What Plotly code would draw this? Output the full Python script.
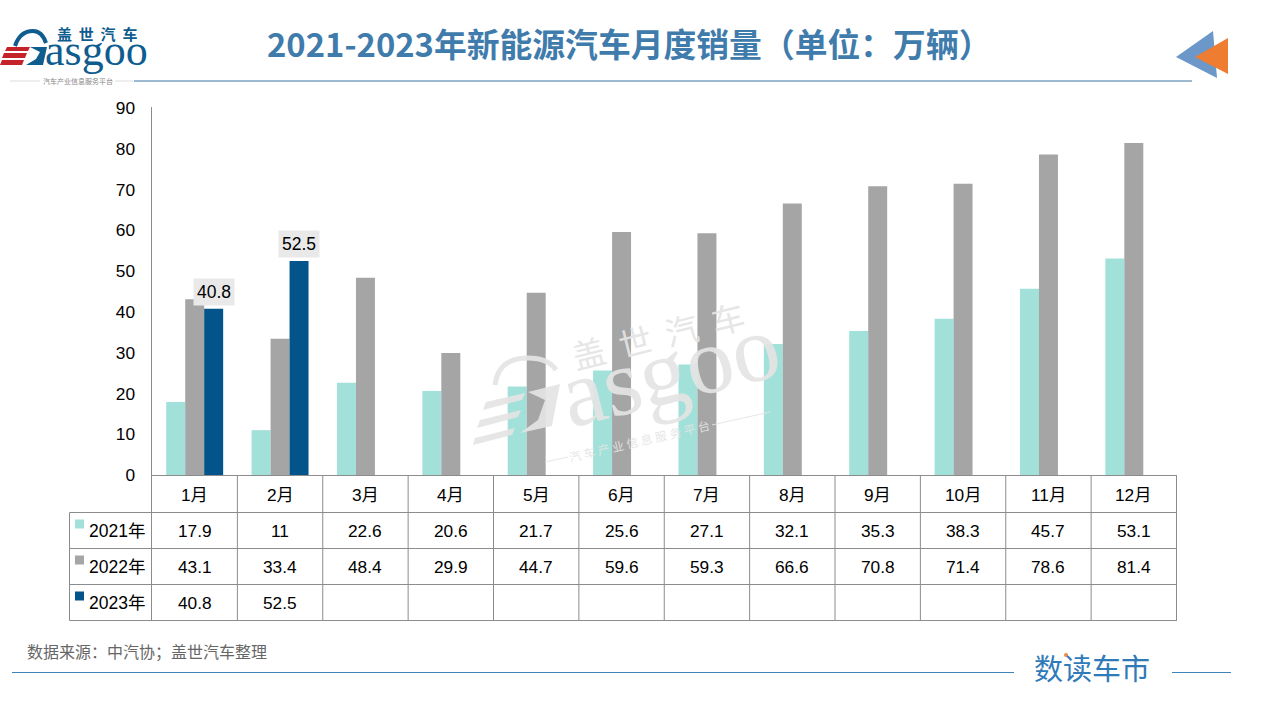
import plotly.graph_objects as go

W, H = 1262, 704
CJK = "Liberation Sans, Noto Sans CJK SC"
GAP = '\u00a0\u00a0'

months = ['1月', '2月', '3月', '4月', '5月', '6月', '7月', '8月', '9月', '10月', '11月', '12月']
sales = {
    '2021年': [17.9, 11, 22.6, 20.6, 21.7, 25.6, 27.1, 32.1, 35.3, 38.3, 45.7, 53.1],
    '2022年': [43.1, 33.4, 48.4, 29.9, 44.7, 59.6, 59.3, 66.6, 70.8, 71.4, 78.6, 81.4],
    '2023年': [40.8, 52.5] + [None] * 10,
}
colors = {'2021年': '#a2e1d9', '2022年': '#a5a5a5', '2023年': '#02548b'}


# pixel position on the page -> paper coordinates
def px(x):
    return x / W


def py(y):
    return 1 - y / H


def page_path(points):
    return 'M ' + ' L '.join(f'{px(x)} {py(y)}' for x, y in points) + ' Z'


def page_line(x0, y0, x1, y1, color, width=1):
    return dict(type='line', xref='paper', yref='paper', x0=px(x0), x1=px(x1), y0=py(y0), y1=py(y1),
                line=dict(color=color, width=width))


def page_poly(points, color):
    return dict(type='path', xref='paper', yref='paper', path=page_path(points),
                fillcolor=color, line=dict(width=0))


def page_text(x, y, text, size, color='#000000', family=CJK, anchor='center', angle=0, bold=False):
    if bold:
        text = f'<b>{text}</b>'
    return dict(xref='paper', yref='paper', x=px(x), y=py(y), text=text, showarrow=False,
                xanchor=anchor, yanchor='middle', textangle=angle,
                font=dict(size=size, color=color, family=family))


fig = go.Figure()
for year, values in sales.items():
    fig.add_trace(go.Bar(name=year, x=months, y=values, marker_color=colors[year], marker_line_width=0))

shapes = []
annotations = []

# data table under the bars
table_color = '#8c8c8c'
row_lines = [475.5, 512.5, 548.5, 584.5, 620.5]
for i, y in enumerate(row_lines):
    shapes.append(page_line(152 if i == 0 else 69.5, y, 1177, y, table_color))
shapes.append(page_line(69.5, 512.5, 69.5, 620.5, table_color))
shapes.append(page_line(151.5, 107, 151.5, 620.5, table_color))
for i in range(1, len(months) + 1):
    shapes.append(dict(type='line', xref='x', yref='paper', x0=i - 0.5, x1=i - 0.5,
                       y0=py(475.5), y1=py(620.5), line=dict(color=table_color, width=1)))

for i, (year, values) in enumerate(sales.items()):
    row_y = 530.5 + 36 * i
    shapes.append(page_poly([(75, row_y - 11), (84, row_y - 11), (84, row_y - 2), (75, row_y - 2)], colors[year]))
    annotations.append(page_text(87, row_y, year, 17.5, anchor='left'))
    for month, value in zip(months, values):
        if value is not None:
            annotations.append(dict(x=month, xref='x', yref='paper', y=py(row_y), yanchor='middle', text=str(value),
                                    showarrow=False, font=dict(size=17.3, color='#000000', family=CJK)))

for month in months:
    annotations.append(dict(x=month, xref='x', yref='paper', y=py(495), yanchor='middle', text=month, showarrow=False,
                            font=dict(size=17.3, color='#000000', family=CJK)))

# data labels on the 2023 bars
for month, value in zip(months, sales['2023年']):
    if value is not None:
        annotations.append(dict(x=month, y=value, xref='x', yref='y', text=str(value), showarrow=False,
                                xshift=19, yshift=3, yanchor='bottom', bgcolor='#e9e9e9', borderpad=3,
                                font=dict(size=17.5, color='#000000', family=CJK)))

# header
title_color = '#3f7cac'
annotations.append(page_text(628.5, 43, '2021-2023年新能源汽车月度销量（单位：万辆）', 32.8, title_color,
                             family='Noto Sans CJK SC', bold=True))
shapes.append(page_line(134, 81, 1192, 81, '#3a75a5'))
shapes.append(page_poly([(1176, 57), (1213, 31), (1217, 78)], '#6b97c9'))
shapes.append(page_poly([(1195, 57), (1228, 38), (1228, 74)], '#ee7d31'))

# logo, top left
logo_blue = '#0f5c8f'
logo_red = '#c5232a'
shapes.append(dict(type='path', xref='paper', yref='paper',
                   path=f'M {px(15)} {py(46)} Q {px(20)} {py(31)} {px(33)} {py(31)} Q {px(42)} {py(31)} {px(46)} {py(43)}',
                   line=dict(color=logo_blue, width=4)))
shapes.append(page_poly([(30, 47), (47, 47), (43, 65), (26, 65), (36, 59), (40, 52)], logo_blue))
shapes.append(page_poly([(7, 47), (30, 47), (28, 51), (5, 51)], logo_red))
shapes.append(page_poly([(4, 53), (27, 53), (25, 58), (2, 58)], logo_red))
shapes.append(page_poly([(2, 60), (24, 60), (22, 65), (0, 65)], logo_red))
annotations.append(page_text(96, 50, 'asgoo', 44, logo_blue, family='Liberation Serif'))
annotations.append(page_text(97, 33, GAP.join('盖世汽车'), 15, logo_blue, family='Noto Sans CJK SC', bold=True))
annotations.append(page_text(78, 81, '汽车产业信息服务平台', 7, '#888888', family='Noto Sans CJK SC'))
shapes.append(page_line(10, 81, 40, 81, '#dddddd'))
shapes.append(page_line(115, 81, 133, 81, '#dddddd'))

# watermark
mark = 'rgba(228,228,228,0.92)'
annotations.append(page_text(670, 370, 'asgoo', 95, mark, family='Liberation Serif', angle=-14))
annotations.append(page_text(658, 335, GAP.join('盖世汽车'), 33, mark, family='Noto Sans CJK SC', angle=-14))
annotations.append(page_text(639, 440, ' '.join('汽车产业信息服务平台'), 12, mark, family='Noto Sans CJK SC', angle=-13))
shapes.append(page_line(545, 462, 568, 457, mark))
shapes.append(page_line(712, 425, 770, 412, mark))
shapes.append(page_poly([(486, 402), (525, 393), (522, 400), (483, 410)], mark))
shapes.append(page_poly([(480, 420), (521, 410), (518, 417), (477, 428)], mark))
shapes.append(page_poly([(475, 438), (515, 428), (512, 435), (473, 445)], mark))
shapes.append(page_poly([(528, 392), (560, 384), (552, 426), (520, 433), (538, 420), (545, 400)], mark))
shapes.append(dict(type='path', xref='paper', yref='paper',
                   path=f'M {px(495)} {py(385)} Q {px(498)} {py(358)} {px(528)} {py(358)} Q {px(548)} {py(358)} {px(556)} {py(370)}',
                   line=dict(color=mark, width=5)))

# footer
annotations.append(page_text(25, 651, '数据来源：中汽协；盖世汽车整理', 16, '#666666', family='Noto Sans CJK SC', anchor='left'))
shapes.append(page_line(12, 672.5, 1014, 672.5, '#3d85b8'))
shapes.append(page_line(1172, 672.5, 1231, 672.5, '#3d85b8'))
annotations.append(page_text(1092, 667, '数读车市', 29, '#2f7ab8', family='Noto Sans CJK SC'))
shapes.append(dict(type='circle', xref='paper', yref='paper', x0=px(1064), x1=px(1068), y0=py(657), y1=py(653),
                   fillcolor='#f08a3c', line=dict(width=0)))

fig.update_layout(
    width=W,
    height=H,
    margin=dict(l=0, r=0, t=0, b=0, autoexpand=False),
    paper_bgcolor='#ffffff',
    plot_bgcolor='#ffffff',
    barmode='group',
    bargap=0.333,
    bargroupgap=0,
    showlegend=False,
    shapes=shapes,
    annotations=annotations,
    xaxis=dict(domain=[px(152), px(1177)], type='category', categoryorder='array', categoryarray=months,
               showticklabels=False, showgrid=False, zeroline=False, ticks='', automargin=False),
    yaxis=dict(domain=[py(475), py(108)], range=[0, 90], dtick=10, showgrid=False, zeroline=False, automargin=False,
               ticks='', ticklabelstandoff=16, tickfont=dict(size=17.3, color='#000000', family=CJK)),
)

# page margin would shift the whole picture by 8px
fig.write_html("out.html", config={'displayModeBar': False}, post_script="document.body.style.margin='0';")
